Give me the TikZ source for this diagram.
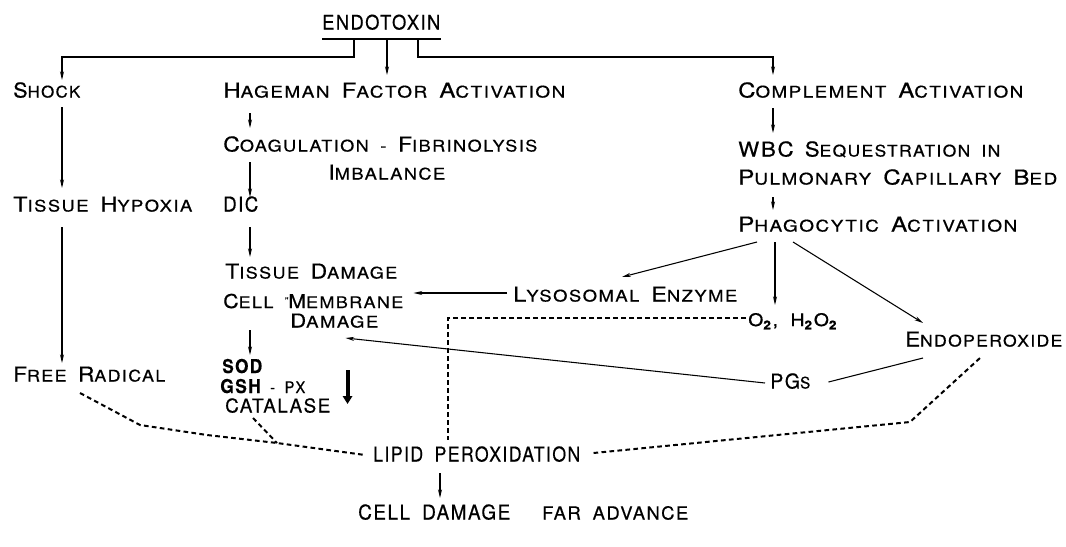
\documentclass[tikz,border=0pt]{standalone}
\usepackage{fontspec}
\setmainfont{TeX Gyre Heros}[LetterSpace=8,WordSpace=1.8,FakeBold=0.5]
\usetikzlibrary{arrows.meta,calc}
\newlength\pxu \setlength\pxu{0.75pt}
\newcommand\fw[2]{\resizebox{#1\pxu}{\height}{#2}}
\newcommand\B[1]{{\fontsize{15.3}{17}\selectfont #1}}
\newcommand\Bs[1]{{\fontsize{14.3}{16}\selectfont #1}}
\begin{document}
\begin{tikzpicture}[x=0.75pt,y=-0.75pt,
  txt/.style={anchor=base west,inner sep=0pt,font=\fontsize{12}{14}\selectfont},
  conn/.style={line width=0.8pt},
  arr/.style={conn,-{Stealth[length=6.5pt,width=3pt]}},
  dsh/.style={line width=1.5pt,dash pattern=on 3.5pt off 2.5pt},
  thickarr/.style={line width=3pt,-{Triangle[length=6pt,width=7pt]}}]
\fill[white] (0,0) rectangle (1066,546);
\useasboundingbox (0,0) rectangle (1066,546);

% ---- nodes
\node[txt] (endo) at (322,29.5) {\fw{118}{\fontsize{15}{17}\selectfont ENDOTOXIN}};
\node[txt] (shock) at (13,97.5) {\fw{67}{\B{S}HOCK}};
\node[txt] (hag) at (223,97.5) {\fw{342}{\B{H}AGEMAN \B{F}ACTOR \B{A}CTIVATION}};
\node[txt] (comp) at (738,97.5) {\fw{285}{\B{C}OMPLEMENT \B{A}CTIVATION}};
\node[txt] (coag) at (223,151.5) {\fw{314}{\B{C}OAGULATION - \B{F}IBRINOLYSIS}};
\node[txt] (imb) at (328,179.5) {\fw{117}{\B{I}MBALANCE}};
\node[txt] (wbc) at (738,156.5) {\fw{262}{\B{WBC} \B{S}EQUESTRATION IN}};
\node[txt] (pulm) at (738,184.5) {\fw{319}{\B{P}ULMONARY \B{C}APILLARY \B{B}ED}};
\node[txt] (phag) at (738,231.5) {\fw{279}{\B{P}HAGOCYTIC \B{A}CTIVATION}};
\node[txt] (hyp) at (13,211.5) {\fw{179}{\B{T}ISSUE \B{H}YPOXIA}};
\node[txt] (dic) at (223,211.5) {\fw{35}{\B{DIC}}};
\node[txt] (tis) at (225,278.5) {\fw{172}{\B{T}ISSUE \B{D}AMAGE}};
\node[txt] (cell) at (223,308) {\fw{180}{\Bs{C}ELL \raisebox{3pt}{\fontsize{7}{7}\selectfont ''}\Bs{M}EMBRANE}};
\node[txt] (dmg) at (290,327.5) {\fw{88}{\Bs{D}AMAGE}};
\node[txt] (lys) at (513,301.5) {\fw{224}{\B{L}YSOSOMAL \B{E}NZYME}};
\node[txt] (o2) at (748,326) {\fw{90}{\fontsize{13}{15}\selectfont O\textsubscript{\textbf{2}}, H\textsubscript{\textbf{2}}O\textsubscript{\textbf{2}}}};
\node[txt] (endop) at (905,346.5) {\fw{157}{\B{E}NDOPEROXIDE}};
\node[txt] (pgs) at (770,388.5) {\fw{40}{\B{PG}S}};
\node[txt] (free) at (13,381.5) {\fw{152}{\B{F}REE \B{R}ADICAL}};
\node[txt] (sod) at (222,373) {\fw{40}{\Bs{\bfseries SOD}}};
\node[txt] (gsh) at (220,393) {\fw{85}{\Bs{\bfseries GSH} - PX}};
\node[txt] (cat) at (225,412.5) {\fw{105}{\Bs{CATALASE}}};
\node[txt] (lipid) at (373,461.5) {\fw{207}{\B{LIPID PEROXIDATION}}};
\node[txt] (celld) at (358,519.5) {\fw{152}{\B{CELL DAMAGE}}};
\node[txt] (far) at (542,519.5) {\fw{146}{\fontsize{13.5}{15}\selectfont FAR ADVANCE}};

% ---- endotoxin tree
\draw[conn] ($(endo.base west)+(0,9.5)$) -- ($(endo.base east)+(0,9.5)$);
\draw[arr] ($(endo.base west)+(32,9.5)$) |- ($(shock.base west)+(49,-40.5)$) -- ($(shock.base west)+(49,-17.5)$);
\draw[arr] ($(endo.base west)+(65,9.5)$) -- ($(hag.base west)+(164,-22.5)$);
\draw[arr] ($(endo.base west)+(96,9.5)$) |- ($(comp.base west)+(35,-40.5)$) -- ($(comp.base west)+(35,-22.5)$);

% ---- vertical chains
\draw[arr] ($(shock.base west)+(49,9.5)$) -- ($(hyp.base west)+(49,-23.5)$);
\draw[arr] ($(hyp.base west)+(49,15.5)$) -- ($(free.base west)+(49,-18.5)$);
\draw[arr] ($(hag.base west)+(27,15.5)$) -- ($(coag.base west)+(27,-23.5)$);
\draw[arr] ($(coag.base west)+(27,10.5)$) -- ($(dic.base west)+(27,-14.5)$);
\draw[arr] ($(dic.base west)+(27,15.5)$) -- ($(tis.base west)+(25,-21.5)$);
\draw[arr] ($(cell.base west)+(27,22)$) -- ($(sod.base west)+(28,-18)$);
\draw[arr] ($(comp.base west)+(35,10.5)$) -- ($(wbc.base west)+(35,-23.5)$);
\draw[arr] ($(pulm.base west)+(35,12.5)$) -- ($(phag.base west)+(35,-21.5)$);
\draw[arr] ($(lipid.base west)+(67,11.5)$) -- ($(celld.base west)+(82,-21.5)$);

% ---- phagocytic branches
\draw[arr] ($(phag.base west)+(19,10.5)$) -- ($(lys.base west)+(109,-24.5)$);
\draw[arr] ($(phag.base west)+(37,10.5)$) -- ($(o2.base west)+(27,-21)$);
\draw[arr] ($(phag.base west)+(55,10.5)$) -- ($(endop.base west)+(18,-23.5)$);
\draw[arr] ($(lys.base west)+(-6,-8.5)$) -- ($(cell.base east)+(10,-15)$);
\draw[arr] ($(pgs.base west)+(-5,-5.5)$) -- ($(dmg.base east)+(-33,10.5)$);
\draw[conn] ($(endop.base west)+(18,11.5)$) -- ($(pgs.base east)+(18,-6.5)$);

% ---- decrease arrow
\coordinate (dn1) at ($(cat.base east)+(17,-42.5)$);
\coordinate (dn2) at ($(cat.base east)+(17,-8.5)$);
\draw[thickarr] (dn1) -- (dn2);

% ---- dashed links to lipid peroxidation
\coordinate (J) at (277,443);
\draw[dsh] ($(free.base west)+(67,11.5)$) -- (140,425) -- (207,435) -- (J) -- ($(lipid.base west)+(-8,-6.5)$);
\draw[dsh] ($(cat.base west)+(28,5.5)$) -- (J);
\draw[dsh,line width=1.2pt] ($(o2.base west)+(-2,-8)$) -| ($(lipid.base west)+(75,-21.5)$);
\draw[dsh] ($(lipid.base east)+(13,-8.5)$) -- ($(endop.base west)+(5,75.5)$) -- ($(endop.base west)+(75,11.5)$);
\end{tikzpicture}
\end{document}
